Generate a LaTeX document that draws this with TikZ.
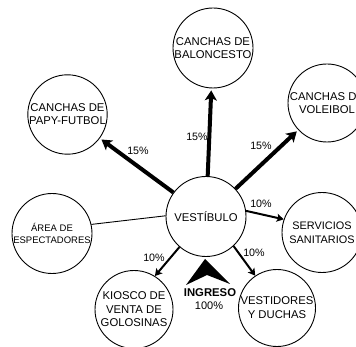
\documentclass[tikz,border=0pt]{standalone}
\usepackage{fontspec}
\setmainfont{Liberation Sans}
\usetikzlibrary{arrows.meta}
\begin{document}
\begin{tikzpicture}[x=1pt,y=-1pt,
  area/.style={circle,draw=black,line width=0.9pt,inner sep=0pt,align=center,
    font=\fontsize{11.3}{13}\selectfont},
  pct/.style={inner sep=0pt,font=\fontsize{10.7}{12}\selectfont},
  bigarrow/.style={line width=4pt,-{Stealth[length=10pt,width=12pt,inset=2.5pt]},shorten >=2pt},
  smallarrow/.style={line width=2pt,-{Stealth[length=7pt,width=8pt,inset=1.5pt]}},
]
\useasboundingbox (0,0) rectangle (356,347);
\fill[white] (0,0) rectangle (356,347);

\node[area,minimum size=80pt] (vest) at (206,216.5) {VESTÍBULO};
\node[area,minimum size=80pt] (balon) at (213,48) {CANCHAS DE\\BALONCESTO};
\node[area,minimum size=79pt] (papy) at (67.5,114.5) {CANCHAS DE\\PAPY-FUTBOL};
\node[area,minimum size=78pt] (volei) at (327,103) {CANCHAS DE\\VOLEIBOL};
\node[area,minimum size=80pt,font=\fontsize{9.5}{12.5}\selectfont] (espec) at (52,233.5) {ÁREA DE\\ESPECTADORES};
\node[area,minimum size=80pt,font=\fontsize{10.9}{13.5}\selectfont] (serv) at (322,232.5) {SERVICIOS\\SANITARIOS};
\node[area,minimum size=78pt,font=\fontsize{11.3}{13.5}\selectfont] (kiosco) at (134,309.5) {KIOSCO DE\\VENTA DE\\GOLOSINAS};
\node[area,minimum size=77pt,font=\fontsize{11.3}{14}\selectfont] (vestid) at (277,308) {VESTIDORES\\Y DUCHAS};

\draw[bigarrow] (vest) -- (balon);
\draw[bigarrow] (vest) -- (papy);
\draw[bigarrow] (vest) -- (volei);
\draw[smallarrow] (vest.8) -- (serv.161);
\draw[smallarrow] (vest.-47) -- (vestid.124);
\draw[smallarrow] (vest.-131) -- (kiosco.58);
\draw[line width=0.9pt] (vest.179) -- (espec.13);

\node[pct] (p1) at (138,151) {15\%};
\node[pct] (p2) at (197,137) {15\%};
\node[pct] (p3) at (261,146) {15\%};
\node[pct] (p4) at (261,204) {10\%};
\node[pct] (p5) at (254,253) {10\%};
\node[pct] (p6) at (154,258) {10\%};

\fill[black] (205,259) -- (230,284) -- (207,275) -- (186,285) -- cycle;
\node[inner sep=0pt,font=\fontsize{11.3}{13}\selectfont\bfseries] (ingreso) at (210,293) {INGRESO};
\node[pct,font=\fontsize{11}{13}\selectfont] (cien) at (209,306) {100\%};
\end{tikzpicture}
\end{document}
